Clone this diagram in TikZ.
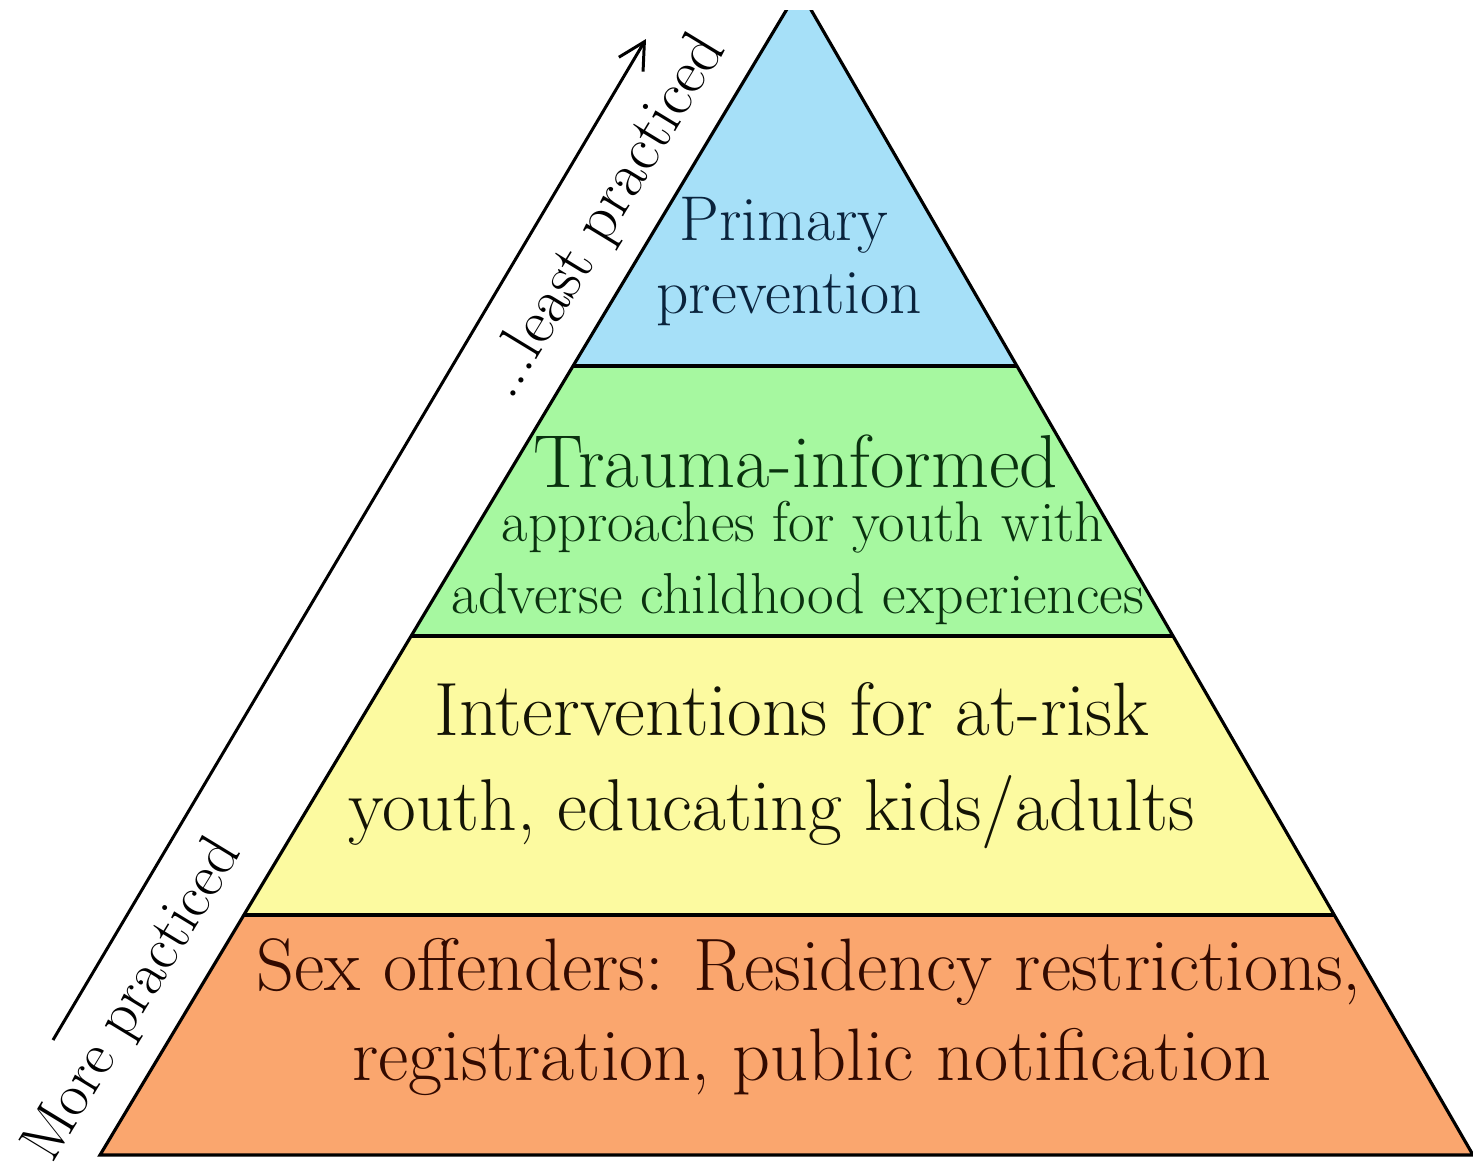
\documentclass[tikz,border=0pt]{standalone}
\usepackage{fontspec}
\usetikzlibrary{arrows.meta}
\definecolor{cblue}{RGB}{166,224,248}
\definecolor{cgreen}{RGB}{166,248,160}
\definecolor{cyellow}{RGB}{252,250,160}
\definecolor{corange}{RGB}{250,166,110}
\definecolor{tblue}{RGB}{10,35,60}
\definecolor{tgreen}{RGB}{10,50,15}
\definecolor{tyellow}{RGB}{20,20,5}
\definecolor{torange}{RGB}{50,10,0}
\begin{document}
\begin{tikzpicture}[x=0.02cm,y=-0.02cm,
  edge/.style={line width=1.8pt, line join=miter},
  lbl/.style={anchor=base, inner sep=0pt},
  side/.style={anchor=base west, inner sep=0pt, rotate=58.7}]
\fill[white] (0,0) rectangle (1473,1171);
\useasboundingbox (0,0) rectangle (1473,1171);
\coordinate (apex) at (799,-11);
\coordinate (l1) at (573,366);  \coordinate (r1) at (1017,366);
\coordinate (l2) at (411,636);  \coordinate (r2) at (1173,636);
\coordinate (l3) at (244,915);  \coordinate (r3) at (1334,915);
\coordinate (l4) at (100,1155); \coordinate (r4) at (1473,1155);
\begin{scope}
  \clip (0,10) rectangle (1500,1200);
  \fill[cblue] (apex) -- (r1) -- (l1) -- cycle;
  \fill[cgreen] (l1) -- (r1) -- (r2) -- (l2) -- cycle;
  \fill[cyellow] (l2) -- (r2) -- (r3) -- (l3) -- cycle;
  \fill[corange] (l3) -- (r3) -- (r4) -- (l4) -- cycle;
  \draw[edge] (apex) -- (r4) -- (l4) -- cycle;
  \draw[edge] (l1) -- (r1);
  \draw[edge] (l2) -- (r2);
  \draw[edge] (l3) -- (r3);
\end{scope}
% level texts
\begin{scope}[lbl/.append style={text=tblue, font=\fontsize{36}{42}\selectfont}]
  \node[lbl] (p1) at (784,240) {Primary};
  \node[lbl] (p2) at (789,313) {prevention};
\end{scope}
\node[lbl, text=tgreen, font=\fontsize{42.7}{50}\selectfont] (t1) at (796,487) {Trauma-informed};
\node[lbl, text=tgreen, font=\fontsize{32.7}{38}\selectfont] (t2) at (803,541) {approaches for youth with};
\node[lbl, text=tgreen, font=\fontsize{32.9}{38}\selectfont] (t3) at (798,613) {adverse childhood experiences};
\node[lbl, text=tyellow, font=\fontsize{43}{50}\selectfont] (i1) at (792,735) {Interventions for at-risk};
\node[lbl, text=tyellow, font=\fontsize{41.8}{50}\selectfont] (i2) at (772,830) {youth, educating kids/adults};
\node[lbl, text=torange, font=\fontsize{42.3}{50}\selectfont] (s1) at (809,990) {Sex offenders: Residency restrictions,};
\node[lbl, text=torange, font=\fontsize{42.3}{50}\selectfont] (s2) at (812,1080) {registration, public notification};
% side arrow and labels
\coordinate (arrS) at (53,1040);
\coordinate (arrE) at (646,39);
\draw[line width=1.7pt, -{Straight Barb[length=15pt,width=16pt,line width=1.7pt]}] (arrS) -- (arrE);
\node[side, font=\fontsize{34.5}{40}\selectfont] (more) at (52,1165) {More practiced};
\node[side, font=\fontsize{36}{42}\selectfont] (least) at (511,402) {...least practiced};
\end{tikzpicture}
\end{document}
